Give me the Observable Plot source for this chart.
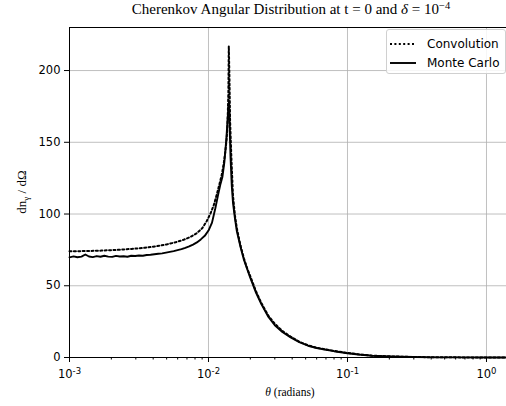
<!DOCTYPE html>
<html><head><meta charset="utf-8">
<script src="https://cdn.jsdelivr.net/npm/d3@7"></script>
<script src="https://cdn.jsdelivr.net/npm/@observablehq/plot@0.6"></script>
<style>
body{margin:0;background:#fff;overflow:hidden}
#wrap{position:relative;width:506px;height:406px;overflow:hidden;background:#fff}
#title{position:absolute;top:1px;left:291px;transform:translateX(-50%);white-space:nowrap;font-family:"Liberation Serif",serif;font-size:15px;color:#000}
#title sup{font-size:10.5px;vertical-align:5px;line-height:0}
#xlabel{position:absolute;top:386px;left:290px;transform:translateX(-50%);white-space:nowrap;font-family:"Liberation Serif",serif;font-size:11.5px;color:#000}
#ylabel{position:absolute;left:22px;top:192px;transform:translate(-50%,-50%) rotate(-90deg);white-space:nowrap;font-family:"Liberation Serif",serif;font-size:13px;color:#000}
#ylabel sub{font-size:9px;vertical-align:-3px;line-height:0}
#legend{position:absolute;left:386px;top:29px;width:120px;height:45px;box-sizing:border-box;border:1px solid #d0d0d0;border-radius:3px;background:rgba(255,255,255,0.85);font-family:"DejaVu Sans",sans-serif;font-size:12px;color:#000}
.lrow{position:absolute;left:0;height:16px;display:flex;align-items:center}
.lrow svg{margin-left:3px}
.lrow span{margin-left:11px}
</style></head><body><div id="wrap"></div>
<script>
// Convolution curve (dotted)
const convTheta = [0.001,0.0013,0.0017,0.0022,0.0028,0.0035,0.0042,0.005,0.0058,0.0066,0.0074,0.0082,0.009,0.0097,0.0103,0.0109,0.0115,0.012,0.0125,0.0129,0.0132,0.0135,0.0137,0.0139,0.0140,0.01415,0.0143,0.0146,0.015,0.0155,0.016,0.017,0.018,0.019,0.020,0.022,0.024,0.027,0.030,0.034,0.039,0.045,0.052,0.06,0.07,0.08,0.1,0.12,0.15,0.2,0.3,0.45,0.7,1.0,1.39];
const convValue = [74,74.2,74.5,75,75.7,76.5,77.5,78.8,80.3,82,84,86.5,90,95,100,106,114,121,128,136,143,152,162,185,217,195,165,140,113,99,90,78,69,62,56.5,46,38,29,23.5,18.5,14.5,11,8.5,6.8,5.6,4.6,3.2,2.2,1.3,0.8,0.35,0.15,0.07,0.04,0.02];
// Monte Carlo curve (solid)
const mcTheta = [0.001,0.00107,0.00114,0.00122,0.0013,0.00138,0.00147,0.00157,0.00167,0.00178,0.0019,0.00203,0.00216,0.0023,0.00245,0.00261,0.00278,0.00297,0.00316,0.00337,0.00359,0.00383,0.00408,0.00435,0.00464,0.00495,0.00527,0.00562,0.00599,0.00639,0.00681,0.00726,0.00774,0.00825,0.0088,0.0094,0.01,0.0106,0.0112,0.0117,0.0122,0.0126,0.013,0.0133,0.0135,0.0137,0.0139,0.01405,0.0142,0.0144,0.0147,0.015,0.0155,0.016,0.017,0.018,0.019,0.02,0.022,0.024,0.027,0.03,0.034,0.039,0.045,0.052,0.06,0.07,0.08,0.1,0.12,0.15,0.2,0.3,0.45,0.7,1.0,1.39];
const mcValue = [69.8,70.5,69.9,70.3,71.8,70.4,70.0,70.7,70.2,70.9,70.3,70.1,70.8,70.4,70.6,70.2,70.9,70.7,71.1,70.9,71.4,71.6,72.0,72.3,72.6,73.1,73.6,74.1,74.8,75.5,76.4,77.4,78.7,80.2,82.3,84.8,88.5,94,104,113,121,126,136,147,155,165,174,178,160,140,120,108,97,88,77,68,61.5,55.5,45,37.2,28.2,22.5,17.8,14,10.7,8.2,6.6,5.4,4.4,3.0,2.1,1.25,0.7,0.3,0.12,0.06,0.03,0.02];
// Axes ticks and labels
const xMajorTicks = [1e-3,1e-2,1e-1,1];
const xTickBase = "10";
const xTickExps = ["-3","-2","-1","0"];
const yTicks = [0,50,100,150,200];
const xDomain = [1e-3,1.393];
const yDomain = [0,230];

const conv = convTheta.map((t,i)=>({theta:t,value:convValue[i]}));
const mc = mcTheta.map((t,i)=>({theta:t,value:mcValue[i]}));
const xMinorTicks = [];
for (const base of xMajorTicks) for (let k=2;k<=9;k++){const v=base*k; if (v<=xDomain[1]) xMinorTicks.push(v);}

const plot = Plot.plot({
  width:506, height:406, marginLeft:69, marginRight:0, marginTop:27, marginBottom:49,
  x:{type:"log", domain:xDomain},
  y:{domain:yDomain},
  style:{fontFamily:"DejaVu Sans", fontSize:"11px", color:"#000", background:"#fff", overflow:"visible"},
  marks:[
    Plot.gridX(xMajorTicks,{stroke:"#b0b0b0", strokeOpacity:1, strokeWidth:0.8}),
    Plot.gridY(yTicks,{stroke:"#b0b0b0", strokeOpacity:1, strokeWidth:0.8}),
    Plot.line(conv,{x:"theta", y:"value", stroke:"#000", strokeWidth:2, strokeDasharray:"2,2.4"}),
    Plot.line(mc,{x:"theta", y:"value", stroke:"#000", strokeWidth:1.9}),
    Plot.ruleX([xDomain[0]],{stroke:"#000", strokeWidth:1}),
    Plot.ruleY([yDomain[0]],{stroke:"#000", strokeWidth:1}),
    Plot.ruleY([yDomain[1]],{stroke:"#000", strokeWidth:1}),
    Plot.axisX(xMinorTicks,{tickSize:2.5, tickFormat:()=>"", label:null, stroke:"#000"}),
    Plot.axisX(xMajorTicks,{tickSize:5, tickPadding:7, tickFormat:d=>xTickBase+"|"+xTickExps[xMajorTicks.indexOf(d)], label:null, stroke:"#000", fontSize:11.5}),
    Plot.axisY(yTicks,{tickSize:5, tickPadding:4, label:null, stroke:"#000", fontSize:11.5})
  ]
});
const wrap = document.getElementById("wrap");
wrap.appendChild(plot);

// render x tick labels as base with superscript exponent
d3.select(plot).selectAll('g[aria-label="x-axis tick label"] text').each(function(){
  const parts = this.textContent.split("|");
  if (parts.length !== 2) return;
  const t = d3.select(this);
  t.text(null);
  t.append("tspan").text(parts[0]);
  t.append("tspan").attr("dy","-0.45em").attr("font-size","8.5px").text(parts[1]);
});

const title = document.createElement("div");
title.id="title";
title.innerHTML = 'Cherenkov Angular Distribution at t = 0 and <i>δ</i> = 10<sup>−4</sup>';
wrap.appendChild(title);

const xl = document.createElement("div");
xl.id="xlabel"; xl.innerHTML='<i>θ</i> (radians)';
wrap.appendChild(xl);

const yl = document.createElement("div");
yl.id="ylabel"; yl.innerHTML='dn<sub>γ</sub> / dΩ';
wrap.appendChild(yl);

const legendItems = [{name:"Convolution", dash:"2,2.4", w:2},{name:"Monte Carlo", dash:null, w:1.9}];
const lg = document.createElement("div");
lg.id="legend";
legendItems.forEach((it,i)=>{
  const row=document.createElement("div");
  row.className="lrow"; row.style.top=(6+i*18.5)+"px";
  row.innerHTML=`<svg width="26" height="6"><line x1="0" y1="3" x2="26" y2="3" stroke="#000" stroke-width="${it.w}" ${it.dash?`stroke-dasharray="${it.dash}"`:""}/></svg><span>${it.name}</span>`;
  lg.appendChild(row);
});
wrap.appendChild(lg);
</script></body></html>
